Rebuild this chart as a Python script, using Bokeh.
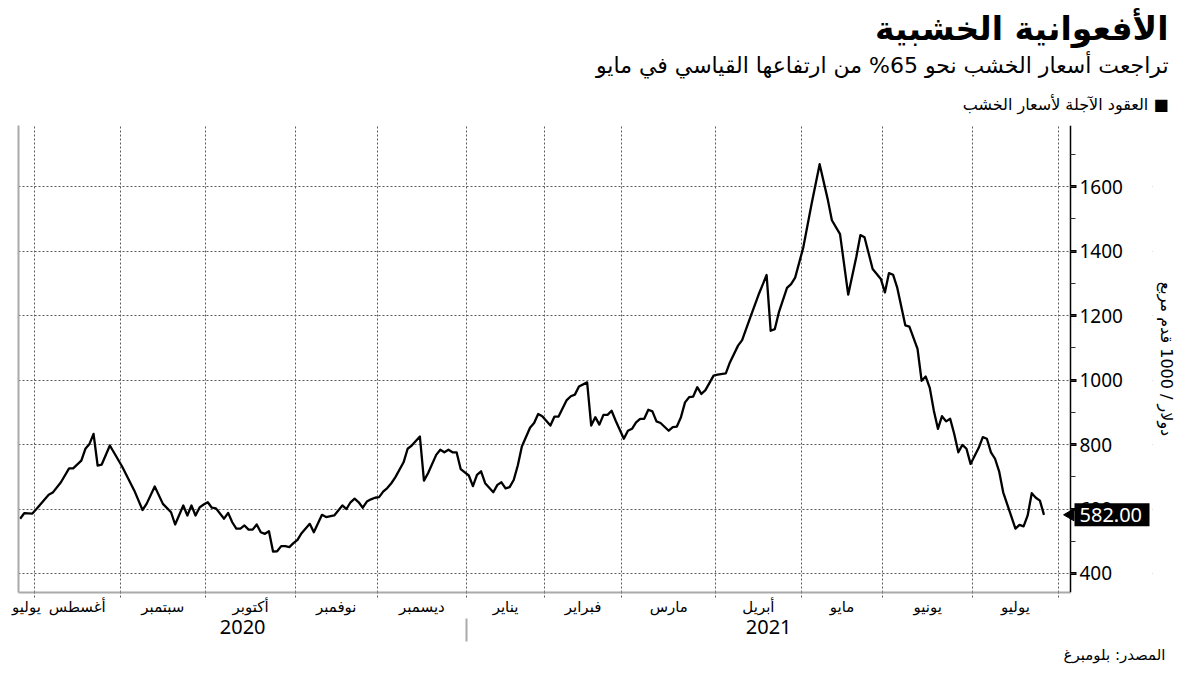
import math
import pandas as pd
from bokeh.plotting import figure
from bokeh.models import Range1d, LinearAxis, FixedTicker, SingleIntervalTicker, Title
from bokeh.core.properties import value
from bokeh.embed import file_html
from bokeh.resources import INLINE

# ---------------- data ----------------
TITLE = "الأفعوانية الخشبية"
SUBTITLE = "تراجعت أسعار الخشب نحو 65% من ارتفاعها القياسي في مايو"
LEGEND = "العقود الآجلة لأسعار الخشب"
SOURCE = "المصدر: بلومبرغ"
Y_LABEL = "دولار / 1000 قدم مربع"
MONTHS = ["يوليو", "أغسطس", "سبتمبر", "أكتوبر", "نوفمبر", "ديسمبر",
          "يناير", "فبراير", "مارس", "أبريل", "مايو", "يونيو", "يوليو"]
YEARS = ["2020", "2021"]
SESSION_START = "2020-07-27"
SESSION_END = "2021-08-31"
HOLIDAYS = ["2020-09-07", "2020-11-26", "2020-12-25", "2021-01-01", "2021-01-18",
            "2021-02-15", "2021-04-02", "2021-05-31", "2021-07-05"]

# trading-session number (0 = 2020-07-27) and lumber futures price
day = [1, 2, 4, 5, 8, 9, 11, 13, 14, 16, 17, 18, 19, 20, 21, 23, 26, 29, 31, 32,
       34, 36, 38, 39, 41, 42, 43, 44, 45, 46, 47, 48, 49, 51, 52, 53, 54, 55, 56, 57,
       58, 59, 60, 61, 62, 63, 64, 65, 66, 67, 68, 69, 70, 72, 73, 75, 76, 78, 80, 81,
       82, 83, 84, 85, 86, 87, 88, 89, 90, 91, 92, 93, 95, 96, 97, 99, 100, 101, 103, 104,
       105, 106, 107, 108, 109, 111, 112, 113, 114, 115, 117, 118, 119, 120, 121, 122, 123, 124, 126, 127,
       128, 129, 131, 132, 133, 135, 136, 137, 138, 140, 141, 142, 143, 144, 145, 146, 147, 149, 150, 151,
       152, 153, 154, 155, 156, 157, 158, 160, 161, 162, 163, 164, 165, 166, 167, 168, 169, 171, 172, 174,
       175, 177, 178, 180, 182, 184, 185, 186, 187, 189, 190, 191, 193, 195, 197, 199, 200, 202, 204, 206,
       207, 208, 210, 212, 213, 214, 215, 216, 218, 219, 221, 222, 223, 224, 225, 226, 227, 228, 229, 230,
       231, 232, 233, 234, 236, 237, 238, 239, 240, 241, 242, 245, 246, 247, 248, 249, 250, 251, 252]
price = [570, 587, 586, 600, 644, 651, 683, 726, 726, 750, 787, 802, 833, 735, 738, 797, 732, 657, 597, 616,
         670, 616, 590, 552, 611, 580, 611, 580, 605, 614, 621, 604, 602, 570, 588, 559, 539, 539, 549, 536,
         536, 552, 528, 523, 531, 468, 469, 485, 485, 482, 494, 504, 525, 554, 528, 582, 575, 580, 611, 600,
         621, 632, 621, 604, 623, 630, 635, 637, 654, 665, 680, 699, 745, 787, 797, 825, 688, 711, 768, 784,
         776, 784, 776, 776, 724, 704, 671, 706, 717, 680, 652, 675, 683, 664, 668, 690, 735, 794, 852, 867,
         895, 888, 859, 887, 887, 938, 950, 955, 980, 993, 859, 885, 862, 892, 892, 905, 874, 818, 843, 849,
         869, 880, 880, 908, 903, 872, 867, 843, 854, 856, 885, 931, 947, 949, 978, 957, 969, 1014, 1017, 1021,
         1055, 1107, 1124, 1195, 1264, 1326, 1153, 1158, 1210, 1286, 1298, 1318, 1412, 1545, 1670, 1560, 1496, 1453, 1265, 1383,
         1450, 1443, 1345, 1314, 1272, 1332, 1327, 1288, 1170, 1166, 1097, 998, 1011, 976, 905, 849, 888, 872, 880, 833,
         776, 799, 787, 740, 790, 823, 818, 776, 756, 717, 652, 539, 551, 546, 580, 649, 635, 626, 582]

# ---------------- calendar (trading sessions) ----------------
sessions = pd.bdate_range(SESSION_START, SESSION_END, freq="C", holidays=HOLIDAYS)
idx = pd.Series(range(len(sessions)), index=sessions)
firsts = idx.groupby([sessions.year, sessions.month]).min()
boundaries = [float(v) - 0.5 for (y, m), v in firsts.items()
              if (2020, 8) <= (y, m) <= (2021, 8)]
jan = [float(v) - 0.5 for (y, m), v in firsts.items() if (y, m) == (2021, 1)][0]

x_start = day[0] - 0.4
x_end = boundaries[-1] + 3.0          # where the value axis stands
edges = [x_start] + boundaries
month_mids = [(edges[k] + edges[k + 1]) / 2 for k in range(len(MONTHS))]
year_mids = [(x_start + jan) / 2, (jan + x_end) / 2]

AR = "DejaVu Sans"
NUM = "Noto Sans"
GRID = "#5a5a5a"

# ---------------- layout ----------------
W, H = 1200, 675
BL, BT, BB = 18, 125, 83
AXIS_X = 1070        # page x of the value axis
FRAME_R = 1152       # page x of the frame's right edge (room for the tag inside the frame)
BR = W - FRAME_R
ppu = (AXIS_X - BL) / (x_end - x_start)          # pixels per session
x_frame_end = x_start + (FRAME_R - BL) / ppu
y_lo, y_hi = 341, 1790

p = figure(width=W, height=H, output_backend="svg", toolbar_location=None,
           x_range=Range1d(x_start, x_frame_end), y_range=Range1d(y_lo, y_hi),
           y_axis_location="right",
           min_border_left=BL, min_border_right=BR, min_border_top=BT, min_border_bottom=BB,
           outline_line_color=None, background_fill_color="white", border_fill_color="white")

# outer right axis: only carries the rotated unit label
lab_ax = p.yaxis[0]
lab_ax.ticker = FixedTicker(ticks=[])
lab_ax.axis_line_color = None
lab_ax.major_tick_line_color = None
lab_ax.minor_tick_line_color = None
lab_ax.axis_label = Y_LABEL
lab_ax.axis_label_text_font = AR
lab_ax.axis_label_text_font_size = "16px"
lab_ax.axis_label_text_font_style = "normal"
lab_ax.axis_label_text_color = "black"
lab_ax.axis_label_standoff = 4

# value axis pinned at the end of the x range
yax = LinearAxis(fixed_location=x_end, ticker=SingleIntervalTicker(interval=200, num_minor_ticks=2))
yax.axis_line_color = "black"
yax.axis_line_width = 1.5
yax.major_tick_in = 0
yax.major_tick_out = 6
yax.major_tick_line_width = 3
yax.major_tick_line_color = "black"
yax.minor_tick_in = 0
yax.minor_tick_out = 5
yax.minor_tick_line_color = "#333333"
yax.major_label_text_font = NUM
yax.major_label_text_font_size = "19px"
yax.major_label_text_color = "black"
yax.major_label_standoff = 3
p.add_layout(yax, "right")

p.ygrid.ticker = SingleIntervalTicker(interval=200)
p.ygrid.grid_line_color = GRID
p.ygrid.grid_line_dash = "2 2"
p.ygrid.grid_line_width = 1
p.xgrid.ticker = FixedTicker(ticks=boundaries)
p.xgrid.grid_line_color = GRID
p.xgrid.grid_line_dash = "2 2"
p.xgrid.grid_line_width = 1

# month axis
xax = p.xaxis[0]
xax.bounds = (x_start, x_end)
xax.ticker = FixedTicker(ticks=month_mids, minor_ticks=boundaries)
xax.major_label_overrides = {m: n for m, n in zip(month_mids, MONTHS)}
xax.major_tick_line_color = None
xax.major_tick_out = 0
xax.major_tick_in = 0
xax.minor_tick_in = 0
xax.minor_tick_out = 5
xax.minor_tick_line_color = GRID
xax.minor_tick_line_dash = "2 2"
xax.axis_line_color = "#aaaaaa"
xax.axis_line_width = 2
xax.major_label_text_font = AR
xax.major_label_text_font_size = "15px"
xax.major_label_text_color = "black"
xax.major_label_standoff = 0

# year axis
year_ax = LinearAxis(bounds=(x_start, x_end),
                     ticker=FixedTicker(ticks=year_mids, minor_ticks=[jan]),
                     major_label_overrides={m: n for m, n in zip(year_mids, YEARS)},
                     axis_line_color=None, major_tick_line_color=None,
                     major_tick_out=0, major_tick_in=0,
                     minor_tick_in=0, minor_tick_out=23,
                     minor_tick_line_color="#aaaaaa", minor_tick_line_width=2,
                     major_label_text_font=NUM, major_label_text_font_size="20px",
                     major_label_text_color="black", major_label_standoff=-22)
p.add_layout(year_ax, "below")

# left spine
left_ax = LinearAxis(ticker=FixedTicker(ticks=[]), axis_line_color="#aaaaaa",
                     axis_line_width=2, major_tick_line_color=None, minor_tick_line_color=None,
                     major_label_text_font_size="0px")
p.add_layout(left_ax, "left")

# white mask right of the value axis (hides the grid there)
p.quad(left=[x_end], right=[x_frame_end], bottom=[y_lo], top=[y_hi],
       fill_color="white", line_color=None)

# series
p.line(day, price, line_color="black", line_width=2.3, line_join="round")

# last-value tag
last = price[-1]
box_w, box_h = 75, 23
p.scatter(x=[x_end], y=[last], marker="triangle", angle=math.pi / 2, size=12,
          fill_color="black", line_color="black", level="overlay")
p.rect(x=[x_end + (4 + box_w / 2) / ppu], y=[last], width=box_w, height=box_h,
       width_units="screen", height_units="screen",
       fill_color="black", line_color=None, level="overlay")
p.text(x=[x_end], y=[last], text=[f"{last:.2f}"], x_offset=9,
       text_font=value(NUM), text_font_size=value("20px"), text_color="white",
       text_baseline="middle", text_align="left", level="overlay")

# headings (stacked outward from the frame: legend, subtitle, title)
p.add_layout(Title(text=LEGEND + " ■", align="right", offset=-16, standoff=24,
                   text_font=AR, text_font_size="16px", text_font_style="normal",
                   text_color="black"), "above")
p.add_layout(Title(text=SUBTITLE, align="right", offset=-16, standoff=5,
                   text_font=AR, text_font_size="22px", text_font_style="normal",
                   text_color="black"), "above")
p.add_layout(Title(text=TITLE, align="right", offset=-16, standoff=1,
                   text_font=AR, text_font_size="33px", text_font_style="bold",
                   text_color="black"), "above")
p.add_layout(Title(text=SOURCE, align="right", offset=-13, standoff=14,
                   text_font=AR, text_font_size="15px", text_font_style="normal",
                   text_color="black"), "below")

open("out.html", "w").write(file_html(p, INLINE))
